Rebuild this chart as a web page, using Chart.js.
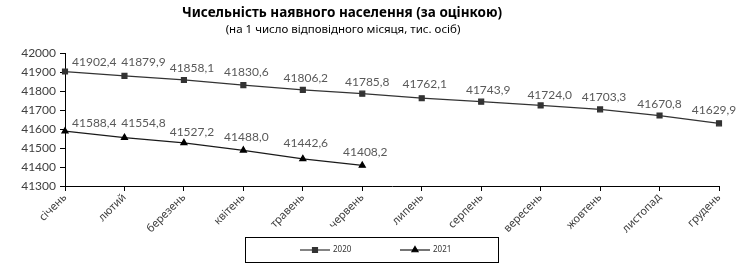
<!DOCTYPE html>
<html>
<head>
<meta charset="utf-8">
<script src="https://cdn.jsdelivr.net/npm/chart.js@4/dist/chart.umd.min.js"></script>
<style>
  body { margin: 0; background: #fff; }
  #wrap { width: 740px; height: 275px; }
</style>
</head>
<body>
<div id="wrap"><canvas id="chart"></canvas></div>
<script>
"use strict"

const months = ["січень", "лютий", "березень", "квітень", "травень", "червень",
                "липень", "серпень", "вересень", "жовтень", "листопад", "грудень"]
const pop2020 = [41902.4, 41879.9, 41858.1, 41830.6, 41806.2, 41785.8,
                 41762.1, 41743.9, 41724.0, 41703.3, 41670.8, 41629.9]
const pop2021 = [41588.4, 41554.8, 41527.2, 41488.0, 41442.6, 41408.2,
                 null, null, null, null, null, null]
const seriesNames = ["2020", "2021"]
const titleText = "Чисельність наявного населення (за оцінкою)"
const subtitleText = "(на 1 число відповідного місяця, тис. осіб)"

const FONT = "'Noto Sans', 'DejaVu Sans', sans-serif"
const NUMFONT = "Lato, 'Noto Sans', sans-serif"

// nudges of the value labels (px from the point), like the hand-placed ones in the original
const labelNudge = [
    {dx: [7, 19, 8, 3, 3, 5, 3, 7, 9, 4, 0, -5], dy: [-9, -14, -12, -13, -12, -12, -14, -12, -10, -12, -11, -13]},
    {dx: [7, 19, 8, 3, 3, 3], dy: [-8, -14, -11, -13, -16, -13]}
]

function fmt(v) {
    return v.toFixed(1).replace(".", ",")
}

// data labels, title and the boxed legend
const extras = {
    id: "extras",
    afterDatasetsDraw(chart) {
        let ctx = chart.ctx
        ctx.save()
        ctx.font = "12px " + NUMFONT
        ctx.fillStyle = "#595959"
        ctx.textBaseline = "middle"
        chart.data.datasets.forEach((ds, di) => {
            let meta = chart.getDatasetMeta(di)
            let nudge = labelNudge[di]
            meta.data.forEach((pt, i) => {
                let v = ds.data[i]
                if (v == null) return
                let dx = nudge.dx[i] || 0, dy = nudge.dy[i] || -13
                // first label sits to the right of the axis
                ctx.textAlign = (i == 0) ? "left" : "center"
                ctx.fillText(fmt(v), pt.x + dx, pt.y + dy)
            })
        })
        ctx.restore()
    },
    afterDraw(chart) {
        let ctx = chart.ctx
        ctx.save()
        ctx.fillStyle = "#000"
        ctx.textAlign = "center"
        ctx.textBaseline = "middle"
        ctx.font = "bold 13.5px " + FONT
        ctx.fillText(titleText, 342, 13)
        ctx.font = "11.5px " + FONT
        ctx.fillText(subtitleText, 343, 30)

        // legend
        ctx.strokeStyle = "#000"
        ctx.lineWidth = 1
        ctx.strokeRect(245.5, 237.5, 253, 25)
        let starts = [300, 400]
        chart.data.datasets.forEach((ds, di) => {
            let x0 = starts[di], y0 = 250
            ctx.strokeStyle = ds.borderColor
            ctx.lineWidth = 1.2
            ctx.beginPath()
            ctx.moveTo(x0, y0)
            ctx.lineTo(x0 + 30, y0)
            ctx.stroke()
            ctx.fillStyle = ds.pointBackgroundColor
            ctx.strokeStyle = ds.pointBorderColor
            Chart.helpers.drawPoint(ctx, {pointStyle: ds.pointStyle, radius: ds.pointRadius,
                                          rotation: 0, borderWidth: 1}, x0 + 15, y0)
            ctx.fillStyle = "#333"
            ctx.font = "8px " + FONT
            ctx.textAlign = "left"
            ctx.fillText(seriesNames[di], x0 + 33, y0)
        })
        ctx.restore()
    }
}

const ctx = document.getElementById("chart").getContext("2d")
new Chart(ctx, {
    type: "line",
    data: {
        labels: months,
        datasets: [
            {
                label: seriesNames[0],
                data: pop2020,
                borderColor: "#333333",
                borderWidth: 1.2,
                pointStyle: "rect",
                pointRadius: 3.5,
                pointBackgroundColor: "#333333",
                pointBorderColor: "#333333",
                tension: 0
            },
            {
                label: seriesNames[1],
                data: pop2021,
                borderColor: "#1a1a1a",
                borderWidth: 1.2,
                pointStyle: "triangle",
                pointRadius: 3.5,
                pointBackgroundColor: "#000000",
                pointBorderColor: "#000000",
                tension: 0,
                spanGaps: false
            }
        ]
    },
    options: {
        responsive: true,
        maintainAspectRatio: false,
        animation: false,
        layout: {
            padding: {top: 53, right: 21, left: 0, bottom: 39}
        },
        plugins: {
            legend: {display: false},
            title: {display: false},
            tooltip: {enabled: false}
        },
        scales: {
            x: {
                offset: false,
                grid: {
                    display: true,
                    drawOnChartArea: false,
                    drawTicks: true,
                    tickLength: 5,
                    color: "#000"
                },
                border: {color: "#000", width: 1},
                ticks: {
                    minRotation: 45,
                    maxRotation: 45,
                    padding: 0,
                    color: "#404040",
                    font: {family: FONT, size: 11}
                },
                afterFit(scale) { scale.height = 50 }
            },
            y: {
                min: 41300,
                max: 42000,
                grid: {
                    display: true,
                    drawOnChartArea: false,
                    drawTicks: true,
                    tickLength: 5,
                    color: "#000"
                },
                border: {color: "#000", width: 1},
                ticks: {
                    stepSize: 100,
                    padding: 4,
                    color: "#404040",
                    font: {family: NUMFONT, size: 12},
                    callback: (v) => String(v)
                },
                afterFit(scale) { scale.width = 65 }
            }
        }
    },
    plugins: [extras]
})
</script>
</body>
</html>
